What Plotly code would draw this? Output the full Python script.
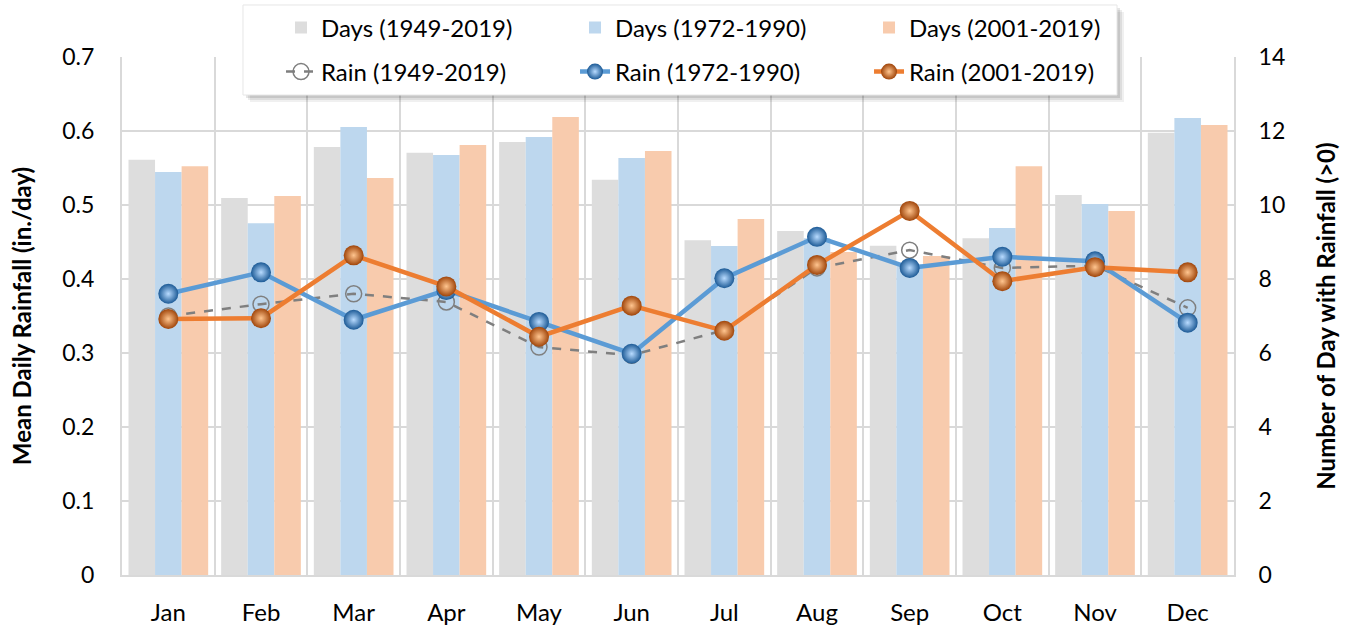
import plotly.graph_objects as go

months = ["Jan", "Feb", "Mar", "Apr", "May", "Jun", "Jul", "Aug", "Sep", "Oct", "Nov", "Dec"]

days_1949_2019 = [11.22, 10.19, 11.57, 11.41, 11.70, 10.68, 9.05, 9.30, 8.90, 9.10, 10.27, 11.95]
days_1972_1990 = [10.89, 9.51, 12.11, 11.35, 11.84, 11.27, 8.89, 9.10, 8.40, 9.38, 10.03, 12.35]
days_2001_2019 = [11.05, 10.24, 10.73, 11.62, 12.38, 11.46, 9.62, 8.73, 8.62, 11.05, 9.84, 12.16]

rain_1949_2019 = [0.350, 0.366, 0.380, 0.369, 0.308, 0.297, 0.331, 0.415, 0.439, 0.415, 0.418, 0.361]
rain_1972_1990 = [0.380, 0.409, 0.345, 0.385, 0.342, 0.299, 0.401, 0.457, 0.415, 0.430, 0.424, 0.341]
rain_2001_2019 = [0.346, 0.347, 0.432, 0.390, 0.322, 0.364, 0.330, 0.419, 0.492, 0.397, 0.416, 0.409]

FONT = "Lato"
GRID = "#d9d9d9"

fig = go.Figure()

bar_specs = [
    ("Days (1949-2019)", days_1949_2019, "#dddddd"),
    ("Days (1972-1990)", days_1972_1990, "#bdd7ee"),
    ("Days (2001-2019)", days_2001_2019, "#f8cbad"),
]
for name, vals, col in bar_specs:
    fig.add_trace(go.Bar(x=months, y=vals, name=name, marker=dict(color=col, line=dict(width=0)),
                         yaxis="y", legend="legend"))

fig.add_trace(go.Scatter(
    x=months, y=rain_1949_2019, name="Rain (1949-2019)", mode="lines+markers", yaxis="y2",
    legend="legend2",
    line=dict(color="#7f7f7f", width=2.5, dash="dash"),
    marker=dict(symbol="circle-open", size=16, color="#7f7f7f", line=dict(width=1.5, color="#7f7f7f")),
))
fig.add_trace(go.Scatter(
    x=months, y=rain_1972_1990, name="Rain (1972-1990)", mode="lines+markers", yaxis="y2",
    legend="legend2",
    line=dict(color="#5b9bd5", width=4.5),
    marker=dict(size=20, color="#1c5a96", gradient=dict(type="radial", color="#b8dbff"),
                line=dict(width=0)),
))
fig.add_trace(go.Scatter(
    x=months, y=rain_2001_2019, name="Rain (2001-2019)", mode="lines+markers", yaxis="y2",
    legend="legend2",
    line=dict(color="#ed7d31", width=4.5),
    marker=dict(size=20, color="#a0450a", gradient=dict(type="radial", color="#ffc58f"),
                line=dict(width=0)),
))

# legend box with soft shadow (paper coords)
bx0, bx1, by0, by1 = 0.1088, 0.8948, 0.9266, 1.1004
shapes = []
for i, op in [(7, 0.06), (5, 0.08), (3, 0.10)]:
    shapes.append(dict(type="rect", xref="paper", yref="paper",
                       x0=bx0 + i / 1112, x1=bx1 + i / 1112, y0=by0 - i / 518, y1=by1 - i / 518,
                       fillcolor="black", opacity=op, line=dict(width=0), layer="above"))
shapes.append(dict(type="rect", xref="paper", yref="paper", x0=bx0, x1=bx1, y0=by0, y1=by1,
                   fillcolor="white", line=dict(color="#e6e6e6", width=1), layer="above"))

legend_common = dict(orientation="h", xanchor="left", yanchor="middle", bgcolor="rgba(0,0,0,0)",
                     font=dict(family=FONT, size=24, color="#000000"),
                     entrywidth=249, entrywidthmode="pixels", itemwidth=30, traceorder="normal")

fig.update_layout(
    width=1354, height=626,
    margin=dict(l=122, r=120, t=57, b=51, autoexpand=False),
    paper_bgcolor="white", plot_bgcolor="white",
    font=dict(family=FONT, size=23, color="#000000"),
    barmode="group", bargap=0.14, bargroupgap=0.0,
    showlegend=True,
    legend=dict(x=0.143, y=1.056, **legend_common),
    legend2=dict(x=0.143, y=0.971, **legend_common),
    shapes=shapes,
    xaxis=dict(tickson="boundaries", showgrid=True, gridcolor=GRID, gridwidth=2,
               showline=True, linecolor=GRID, linewidth=2, ticks="", ticklabelstandoff=15,
               tickfont=dict(family=FONT, size=24), range=[-0.5, 11.5]),
    yaxis=dict(side="right", range=[0, 14], dtick=2, tick0=0, showgrid=True, gridcolor=GRID,
               gridwidth=2, zeroline=False, showline=True, linecolor=GRID, linewidth=2,
               ticks="", ticklabelstandoff=18, tickfont=dict(family=FONT, size=23),
               title=dict(text="<b>Number of Day with Rainfall (>0)</b>", standoff=34,
                          font=dict(family=FONT, size=24))),
    yaxis2=dict(side="left", overlaying="y", range=[0, 0.7], dtick=0.1, tick0=0, showgrid=False,
                zeroline=False, showline=True, linecolor=GRID, linewidth=2, ticks="",
                ticklabelstandoff=21, tickfont=dict(family=FONT, size=23),
                title=dict(text="<b>Mean Daily Rainfall (in./day)</b>", standoff=24,
                           font=dict(family=FONT, size=24))),
)

fig.write_html("out.html", config={"displayModeBar": False},
               post_script="document.body.style.margin='0';")
